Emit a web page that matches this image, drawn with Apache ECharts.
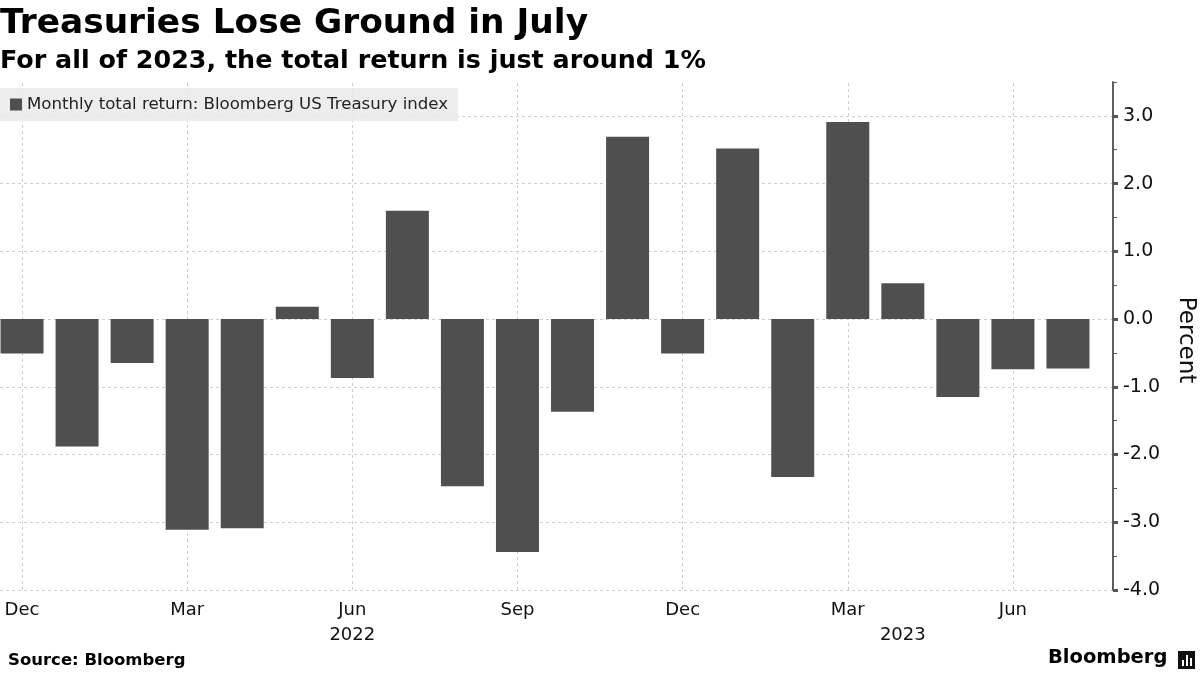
<!DOCTYPE html>
<html>
<head>
<meta charset="utf-8">
<script src="https://cdn.jsdelivr.net/npm/echarts@6/dist/echarts.min.js"></script>
<style>
html,body{margin:0;padding:0;background:#fff;}
#chart{width:1200px;height:675px;}
</style>
</head>
<body>
<div id="chart"></div>
<script>
// ---- data ----
const months = ['Dec 2021','Jan 2022','Feb 2022','Mar 2022','Apr 2022','May 2022','Jun 2022','Jul 2022','Aug 2022','Sep 2022','Oct 2022','Nov 2022','Dec 2022','Jan 2023','Feb 2023','Mar 2023','Apr 2023','May 2023','Jun 2023','Jul 2023'];
const values = [-0.51,-1.88,-0.65,-3.11,-3.09,0.18,-0.87,1.60,-2.47,-3.44,-1.37,2.69,-0.51,2.52,-2.33,2.91,0.53,-1.15,-0.74,-0.73];
const xLabels = ['Dec','','','Mar','','','Jun\n2022','','','Sep','','','Dec','','','Mar','\n2023','','Jun',''];
const gridMonths = ['Dec 2021','Mar 2022','Jun 2022','Sep 2022','Dec 2022','Mar 2023','Jun 2023'];
const seriesName = 'Monthly total return: Bloomberg US Treasury index';
const titleText = 'Treasuries Lose Ground in July';
const subtitleText = 'For all of 2023, the total return is just around 1%';
const sourceText = 'Source: Bloomberg';
const yMin = -4, yMax = 3.5;

const chart = echarts.init(document.getElementById('chart'), null, {renderer: 'canvas'});
const FONT = '"DejaVu Sans", sans-serif';
const LINE = '#cfcfcf';

const option = {
  animation: false,
  backgroundColor: '#ffffff',
  grid: [
    {left: -5.5, right: 104.5, top: 82, bottom: 85, outerBoundsMode: 'none', containLabel: false},
    {left: 0, right: 87, top: 82, bottom: 85, outerBoundsMode: 'none', containLabel: false}
  ],
  legend: {
    data: [seriesName],
    left: 0, top: 88,
    padding: [8, 10, 8, 10],
    itemWidth: 12, itemHeight: 12,
    icon: 'rect',
    backgroundColor: 'rgba(234,234,234,0.85)',
    textStyle: {fontFamily: FONT, fontSize: 16.6, color: '#222'},
    selectedMode: false
  },
  xAxis: [
    {
      gridIndex: 0, type: 'category', data: months,
      axisLine: {show: false, onZero: false},
      axisTick: {show: false},
      splitLine: {show: false},
      axisLabel: {
        interval: 0, margin: 8,
        fontFamily: FONT, fontSize: 18, color: '#111', lineHeight: 25,
        formatter: function (v, i) { return xLabels[i]; }
      }
    },
    {gridIndex: 1, type: 'value', min: 0, max: 1, show: false}
  ],
  yAxis: [
    {gridIndex: 0, type: 'value', min: yMin, max: yMax, show: false},
    {
      gridIndex: 1, type: 'value', position: 'right', min: yMin, max: yMax, interval: 1,
      axisLine: {show: true, onZero: false, lineStyle: {color: '#555', width: 1.5}},
      axisTick: {show: true, length: 5, lineStyle: {color: '#555', width: 3}},
      axisLabel: {
        margin: 10, fontFamily: FONT, fontSize: 19, color: '#111',
        showMaxLabel: false,
        formatter: function (v) { return Number.isInteger(v) ? v.toFixed(1) : ''; }
      },
      splitLine: {show: true, showMaxLine: false, lineStyle: {color: LINE, type: [3, 3], width: 1}},
      name: 'Percent', nameLocation: 'middle', nameRotate: -90, nameGap: 61,
      nameTextStyle: {fontFamily: FONT, fontSize: 23, color: '#111', padding: [0, 0, 0, 8]}
    },
    {
      gridIndex: 1, type: 'value', position: 'right', min: yMin, max: yMax, interval: 0.5,
      axisLine: {show: true, onZero: false, lineStyle: {color: '#555', width: 1.5}},
      axisTick: {show: true, length: 4, lineStyle: {color: '#555', width: 1}},
      axisLabel: {show: false},
      splitLine: {show: false}
    }
  ],
  series: [
    {
      name: seriesName,
      type: 'bar',
      xAxisIndex: 0, yAxisIndex: 0,
      data: values,
      barWidth: 43,
      itemStyle: {color: '#4f4f4f'},
      z: 3,
      markLine: {
        silent: true,
        z: 1,
        symbol: ['none', 'none'],
        label: {show: false},
        lineStyle: {color: LINE, type: [3, 3], width: 1},
        data: gridMonths.map(function (m) { return {xAxis: m}; })
      }
    }
  ],
  graphic: [
    {type: 'text', left: 0, top: 7, style: {text: titleText, font: 'bold 34.4px ' + FONT, fill: '#000'}},
    {type: 'text', left: 0, top: 49, style: {text: subtitleText, font: 'bold 25.4px ' + FONT, fill: '#000'}},
    {type: 'text', left: 8, top: 652, style: {text: sourceText, font: 'bold 16.5px ' + FONT, fill: '#000'}},
    {type: 'text', left: 1048, top: 648, style: {text: 'Bloomberg', font: 'bold 19.5px ' + FONT, fill: '#000'}},
    {type: 'group', left: 1178, top: 651, children: [
      {type: 'rect', shape: {x: 0, y: 0, width: 17, height: 18}, style: {fill: '#111'}},
      {type: 'rect', shape: {x: 4, y: 9, width: 2, height: 6}, style: {fill: '#fff'}},
      {type: 'rect', shape: {x: 8, y: 4, width: 2, height: 11}, style: {fill: '#fff'}},
      {type: 'rect', shape: {x: 12, y: 7, width: 2, height: 8}, style: {fill: '#fff'}}
    ]}
  ]
};
chart.setOption(option);
</script>
</body>
</html>
